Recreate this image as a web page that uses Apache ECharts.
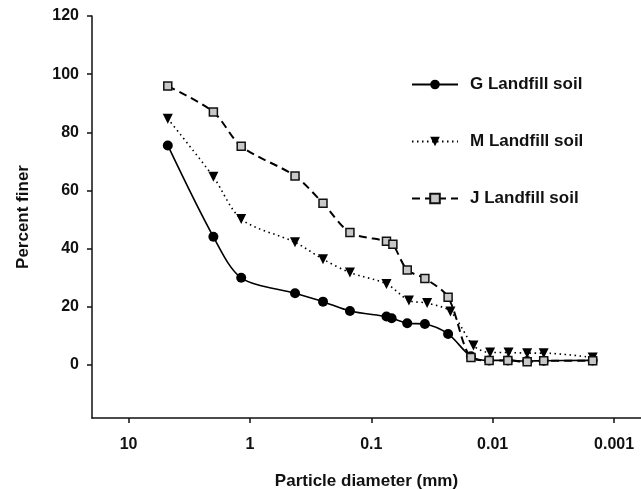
<!DOCTYPE html>
<html>
<head>
<meta charset="utf-8">
<script src="https://cdn.jsdelivr.net/npm/echarts@6/dist/echarts.min.js"></script>
<style>
html,body{margin:0;padding:0;background:#fff;}
#chart{width:641px;height:490px;}
</style>
</head>
<body>
<div id="chart"></div>
<script>
// Particle diameters (mm) and percent finer, per soil
var gDiam = [4.75, 2.0, 1.18, 0.425, 0.25, 0.15, 0.075, 0.068, 0.0506, 0.0362, 0.0233, 0.0151, 0.0107, 0.0075, 0.0052, 0.0038, 0.0015];
var gFiner = [75.5, 44.1, 30.0, 24.7, 21.8, 18.6, 16.7, 16.1, 14.4, 14.1, 10.7, 3.0, 1.6, 1.6, 1.4, 1.5, 1.6];

var mDiam = [4.75, 2.0, 1.18, 0.425, 0.25, 0.15, 0.075, 0.049, 0.0347, 0.0223, 0.0144, 0.0105, 0.0074, 0.0052, 0.0038, 0.0015];
var mFiner = [84.7, 64.7, 50.2, 42.2, 36.4, 31.8, 27.9, 22.2, 21.3, 18.4, 6.7, 4.3, 4.3, 4.1, 4.1, 2.6];

var jDiam = [4.75, 2.0, 1.18, 0.425, 0.25, 0.15, 0.075, 0.0664, 0.0506, 0.0362, 0.0233, 0.0151, 0.0107, 0.0075, 0.0052, 0.0038, 0.0015];
var jFiner = [95.9, 87.0, 75.2, 65.0, 55.6, 45.6, 42.6, 41.5, 32.7, 29.8, 23.3, 2.6, 1.6, 1.6, 1.1, 1.5, 1.5];

var seriesNames = ['G Landfill soil', 'M Landfill soil', 'J Landfill soil'];
var xTickValues = [10, 1, 0.1, 0.01, 0.001];
var yTickValues = [0, 20, 40, 60, 80, 100, 120];

function pairs(d, v) { return d.map(function (x, i) { return [x, v[i]]; }); }

var FONT = '"Liberation Sans", Arial, Helvetica, sans-serif';
var chart = echarts.init(document.getElementById('chart'));
chart.setOption({
  backgroundColor: '#fff',
  animation: false,
  grid: { left: 92, right: 0, top: 16, bottom: 72, containLabel: false, outerBoundsMode: 'none' },
  legend: {
    orient: 'vertical',
    left: 406,
    top: 71,
    itemWidth: 46,
    itemHeight: 12,
    itemGap: 40,
    data: seriesNames,
    textStyle: { fontFamily: FONT, fontSize: 17, fontWeight: 'bold', color: '#111', padding: [0, 0, 0, 7] }
  },
  xAxis: {
    type: 'log',
    logBase: 10,
    inverse: true,
    min: 0.0006,
    max: 20,
    name: 'Particle diameter (mm)',
    nameLocation: 'middle',
    nameGap: 55,
    nameTextStyle: { fontFamily: FONT, fontSize: 17, fontWeight: 'bold', color: '#111' },
    axisLine: { show: true, onZero: false, lineStyle: { color: '#111', width: 1.5 } },
    axisTick: { show: true, inside: false, length: 5, lineStyle: { color: '#111', width: 1.5 } },
    axisLabel: {
      showMinLabel: false, showMaxLabel: false,
      margin: 19, fontFamily: FONT, fontSize: 16, fontWeight: 'bold', color: '#111',
      formatter: function (v) {
        for (var i = 0; i < xTickValues.length; i++) {
          if (Math.abs(Math.log10(v) - Math.log10(xTickValues[i])) < 1e-6) return String(xTickValues[i]);
        }
        return '';
      }
    },
    splitLine: { show: false },
    minorTick: { show: false }
  },
  yAxis: {
    type: 'value',
    min: -18.2,
    max: 120,
    name: 'Percent finer',
    nameLocation: 'middle',
    nameGap: 60,
    nameTextStyle: { fontFamily: FONT, fontSize: 17, fontWeight: 'bold', color: '#111' },
    axisLine: { show: true, onZero: false, lineStyle: { color: '#111', width: 1.5 } },
    axisTick: { show: true, inside: false, length: 5, customValues: yTickValues, lineStyle: { color: '#111', width: 1.5 } },
    axisLabel: { customValues: yTickValues, margin: 13, fontFamily: FONT, fontSize: 16, fontWeight: 'bold', color: '#111' },
    splitLine: { show: false }
  },
  series: [
    {
      name: seriesNames[0], type: 'line', smooth: 0.3,
      data: pairs(gDiam, gFiner),
      symbol: 'circle', symbolSize: 10, z: 2,
      itemStyle: { color: '#000', borderColor: '#000', borderWidth: 0 },
      lineStyle: { color: '#000', width: 1.6, type: 'solid' }
    },
    {
      name: seriesNames[1], type: 'line', smooth: 0.3,
      data: pairs(mDiam, mFiner),
      symbol: 'triangle', symbolRotate: 180, symbolSize: 10, z: 3,
      itemStyle: { color: '#000', borderColor: '#000', borderWidth: 0 },
      lineStyle: { color: '#000', width: 1.6, type: [1.5, 3.5] }
    },
    {
      name: seriesNames[2], type: 'line', smooth: 0.3,
      data: pairs(jDiam, jFiner),
      symbol: 'rect', symbolSize: 8, z: 4,
      itemStyle: { color: '#c8c8c8', borderColor: '#111', borderWidth: 1.5 },
      lineStyle: { color: '#000', width: 2, type: [8, 5] }
    }
  ]
});
</script>
</body>
</html>
